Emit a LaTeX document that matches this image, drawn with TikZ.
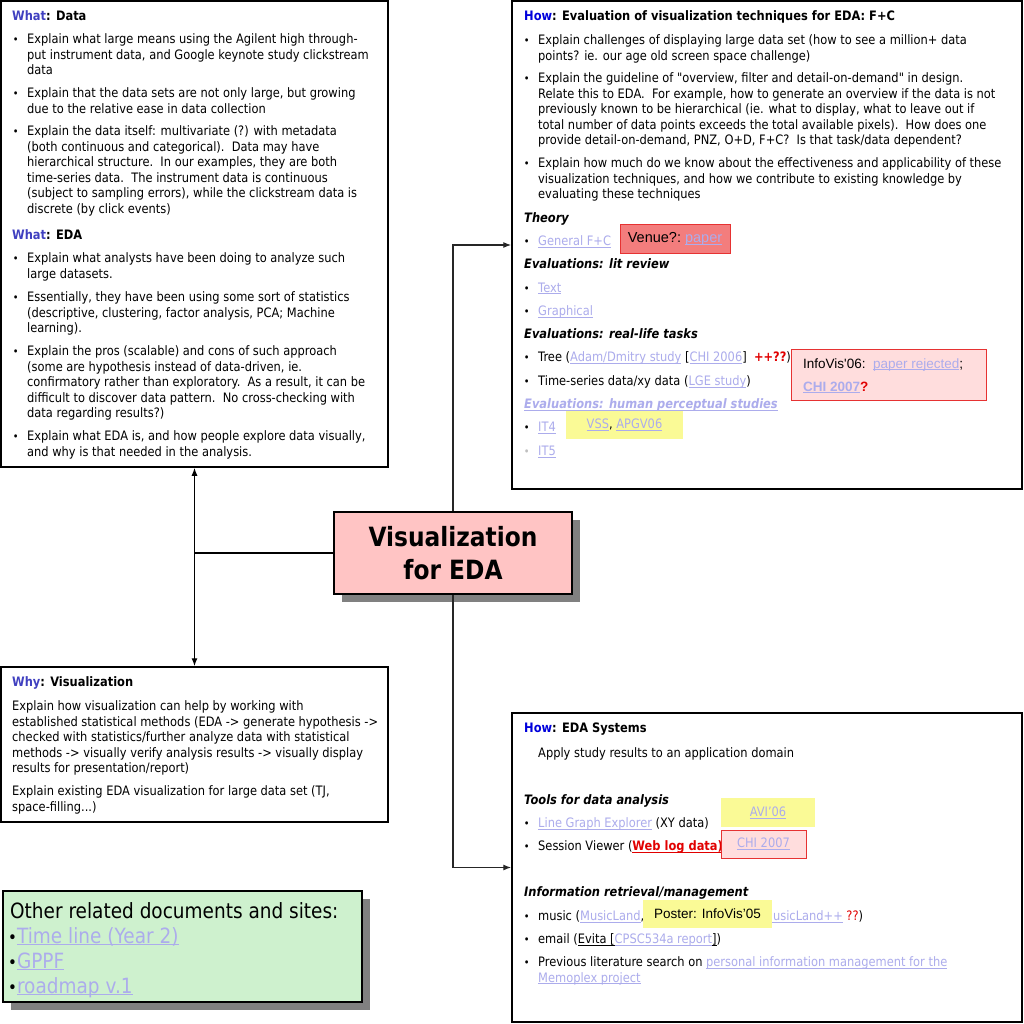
\documentclass[tikz,border=0pt]{standalone}
\usepackage{fontspec}
\setmainfont{DejaVu Sans}[FakeStretch=0.88, Ligatures=TeXOff]
\newfontfamily\arialf{Liberation Sans}
\usetikzlibrary{arrows.meta,shadows}
\definecolor{whatblue}{RGB}{64,64,192}
\definecolor{howblue}{RGB}{0,0,220}
\definecolor{link}{RGB}{172,172,236}
\definecolor{myred}{RGB}{225,0,0}
\definecolor{ctrfill}{RGB}{255,196,196}
\definecolor{venuefill}{RGB}{243,125,125}
\definecolor{boxred}{RGB}{230,50,50}
\definecolor{pinkfill}{RGB}{255,221,221}
\definecolor{yellowfill}{RGB}{250,250,150}
\definecolor{greenfill}{RGB}{206,241,206}
\newcommand\fs{\fontsize{13}{15.5}\selectfont}
\newcommand\st{\rule{0pt}{11pt}}
\newcommand\bl{\llap{{\fontsize{11}{11}\selectfont •}\hspace{8.5pt}}}
\newsavebox\ulbox
\newcommand\uln[1]{\sbox\ulbox{#1}\rlap{\rule[-1.8pt]{\wd\ulbox}{0.6pt}}\usebox\ulbox}
\newcommand\lk[1]{{\color{link}\uln{#1}}}
\newcommand\tline[4]{\node[txt] (#1) at (#2,#3-11) {\st #4};}
\tikzset{
  panel/.style={draw, line width=1.5pt, fill=white, inner sep=0pt},
  txt/.style={anchor=north west, inner sep=0pt, align=left, font=\fs},
  tag/.style={draw=boxred, line width=1pt, inner sep=0pt, font=\fs},
  conn/.style={line width=1.2pt, draw=black!85},
  tip/.style={-{Latex[length=8pt,width=6pt]}},
  shadowed/.style={drop shadow={fill=black!50, opacity=1, shadow xshift=8pt, shadow yshift=-8pt}}
}
\begin{document}
\begin{tikzpicture}[x=1pt,y=-1pt]
\useasboundingbox[fill=white] (0,0) rectangle (1024,1024);
% panels
\node[panel, minimum width=387, minimum height=466] (A) at (194.5,234) {};
\node[panel, minimum width=510, minimum height=488] (B) at (767,245) {};
\node[panel, minimum width=387, minimum height=155] (C) at (194.5,744.5) {};
\node[panel, minimum width=510, minimum height=309] (D) at (767,867.5) {};
\node[panel, fill=ctrfill, shadowed, minimum width=238, minimum height=82, align=center,
  font=\fontsize{26.5}{33}\selectfont\bfseries] (ctr) at (453,553) {Visualization\\for EDA};
\node[panel, fill=greenfill, shadowed, minimum width=359, minimum height=111] (G) at (182.5,946.5) {};
% connectors
\coordinate (j) at (194,553);
\draw[conn, draw=black] (ctr.west) -- (j);
\draw[conn, draw=black, {Latex[length=8pt,width=6pt]}-{Latex[length=8pt,width=6pt]}] (A.south) -- (C.north);
\draw[conn, tip] (ctr.north) |- (B.west);
\draw[conn, tip] (ctr.south) |- (D.west);
% Box A
\tline{ah1}{12}{20}{\bfseries{\color{whatblue}What}: Data}
\tline{a1}{27}{43.5}{\bl Explain what large means using the Agilent high through-\\put instrument data, and Google keynote study clickstream\\data}
\tline{a2}{27}{97.5}{\bl Explain that the data sets are not only large, but growing\\due to the relative ease in data collection}
\tline{a3}{27}{135.5}{\bl Explain the data itself: multivariate (?) with metadata\\(both continuous and categorical).\ \ Data may have\\hierarchical structure.\ \ In our examples, they are both\\time-series data.\ \ The instrument data is continuous\\(subject to sampling errors), while the clickstream data is\\discrete (by click events)}
\tline{ah2}{12}{239}{\bfseries{\color{whatblue}What}: EDA}
\tline{a4}{27}{262.5}{\bl Explain what analysts have been doing to analyze such\\large datasets.}
\tline{a5}{27}{301.5}{\bl Essentially, they have been using some sort of statistics\\(descriptive, clustering, factor analysis, PCA; Machine\\learning).}
\tline{a6}{27}{355.5}{\bl Explain the pros (scalable) and cons of such approach\\(some are hypothesis instead of data-driven, ie.\\confirmatory rather than exploratory.\ \ As a result, it can be\\difficult to discover data pattern.\ \ No cross-checking with\\data regarding results?)}
\tline{a7}{27}{440.5}{\bl Explain what EDA is, and how people explore data visually,\\and why is that needed in the analysis.}
% Box B
\tline{bh}{524}{20}{\bfseries{\color{howblue}How}: Evaluation of visualization techniques for EDA: F+C}
\tline{b1}{538}{44.5}{\bl Explain challenges of displaying large data set (how to see a million+ data\\points? ie. our age old screen space challenge)}
\tline{b2}{538}{82.5}{\bl Explain the guideline of "overview, filter and detail-on-demand" in design.\\Relate this to EDA.\ \ For example, how to generate an overview if the data is not\\previously known to be hierarchical (ie. what to display, what to leave out if\\total number of data points exceeds the total available pixels).\ \ How does one\\provide detail-on-demand, PNZ, O+D, F+C?\ \ Is that task/data dependent?}
\tline{b3}{538}{167.5}{\bl Explain how much do we know about the effectiveness and applicability of these\\visualization techniques, and how we contribute to existing knowledge by\\evaluating these techniques}
\tline{bt}{524}{222.5}{\bfseries\itshape Theory}
\tline{b4}{538}{245.5}{\bl\lk{General F+C}}
\tline{bl1}{524}{268.5}{\bfseries\itshape Evaluations: lit review}
\tline{b5}{538}{292}{\bl\lk{Text}}
\tline{b6}{538}{315.5}{\bl\lk{Graphical}}
\tline{bl2}{524}{338.5}{\bfseries\itshape Evaluations: real-life tasks}
\tline{b7}{538}{361.5}{\bl Tree (\lk{Adam/Dmitry study} [\lk{CHI 2006}]\ \ {\color{myred}\bfseries ++??})}
\tline{b8}{538}{385.5}{\bl Time-series data/xy data (\lk{LGE study})}
\tline{bl3}{524}{408.5}{\bfseries\itshape\lk{Evaluations: human perceptual studies}}
\tline{b9}{538}{431.5}{\bl\lk{IT4}}
\tline{b10}{538}{455.5}{\llap{{\color{black!25}\fontsize{11}{11}\selectfont •}\hspace{8.5pt}}\lk{IT5}}
% tags in B
\node[tag, fill=venuefill, minimum width=110, minimum height=28, font=\arialf\fontsize{14.5}{16}\selectfont] (venue) at (675,239) {Venue?:\ \lk{paper}};
\node[tag, fill=pinkfill, minimum width=195, minimum height=51, anchor=north west] (infovis) at (791,349) {};
\node[txt, font=\arialf\fontsize{13.5}{15}\selectfont, anchor=base west] (iv1) at (803,368) {InfoVis'06:\ \ \lk{paper rejected};};
\node[txt, font=\arialf\fontsize{13.5}{15}\selectfont\bfseries, anchor=base west] (iv2) at (803,391) {\lk{CHI 2007}{\color{myred}?}};
\node[draw=none, fill=yellowfill, minimum width=117, minimum height=28, inner sep=0pt, font=\fs] (vss) at (624.5,425) {\lk{VSS}, \lk{APGV06}};
% Box C
\tline{ch}{12}{686.5}{\bfseries{\color{whatblue}Why}: Visualization}
\tline{c1}{12}{710.5}{Explain how visualization can help by working with\\established statistical methods (EDA -> generate hypothesis ->\\checked with statistics/further analyze data with statistical\\methods -> visually verify analysis results -> visually display\\results for presentation/report)}
\tline{c2}{12}{795.5}{Explain existing EDA visualization for large data set (TJ,\\space-filling...)}
% Box D
\tline{dh}{524}{732.5}{\bfseries{\color{howblue}How}: EDA Systems}
\tline{d1}{538}{757.5}{Apply study results to an application domain}
\tline{dt}{524}{804.5}{\bfseries\itshape Tools for data analysis}
\tline{d2}{538}{827.5}{\bl\lk{Line Graph Explorer} (XY data)}
\tline{d3}{538}{850.5}{\bl Session Viewer ({\color{myred}\bfseries\uln{Web log data)}}}
\node[draw=none, fill=yellowfill, minimum width=94, minimum height=29, inner sep=0pt, font=\fs] (avi) at (768,812.5) {\lk{AVI’06}};
\node[tag, fill=pinkfill, minimum width=85, minimum height=28] (chi) at (763.5,844) {\lk{CHI 2007}};
\tline{di}{524}{896.5}{\bfseries\itshape Information retrieval/management}
\tline{d4}{538}{920.5}{\bl music (\lk{MusicLand},}
\tline{d4b}{763}{920.5}{\lk{MusicLand++} {\color{myred}??})}
\node[draw=none, fill=yellowfill, minimum width=129, minimum height=28, inner sep=0pt, font=\arialf\fontsize{13.5}{15}\selectfont] (poster) at (707.5,914) {Poster: InfoVis’05};
\tline{d5}{538}{943.5}{\bl email (\uln{Evita [}\lk{CPSC534a report}\uln{]})}
\tline{d6}{538}{966.5}{\bl Previous literature search on \lk{personal information management for the}\\\lk{Memoplex project}}
% Green box
\node[txt, font=\fontsize{21}{25}\selectfont, anchor=base west] (g0) at (10,918) {Other related documents and sites:};
\node[txt, font=\fontsize{21}{25}\selectfont, anchor=base west] (g1) at (8,943) {{\fontsize{17}{17}\selectfont •}\lk{Time line (Year 2)}};
\node[txt, font=\fontsize{21}{25}\selectfont, anchor=base west] (g2) at (8,968) {{\fontsize{17}{17}\selectfont •}\lk{GPPF}};
\node[txt, font=\fontsize{21}{25}\selectfont, anchor=base west] (g3) at (8,993) {{\fontsize{17}{17}\selectfont •}\lk{roadmap v.1}};
\end{tikzpicture}
\end{document}
